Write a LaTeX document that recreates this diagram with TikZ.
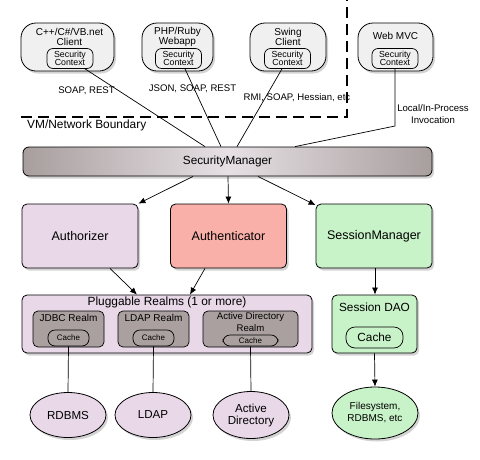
\documentclass[tikz,border=0pt]{standalone}
\usepackage{fontspec}
\setmainfont{Liberation Sans}
\usetikzlibrary{arrows.meta,shadows,calc,shapes.geometric}
\definecolor{clientfill}{HTML}{F0F0F0}
\definecolor{pinkfill}{HTML}{E8D8E8}
\definecolor{salmonfill}{HTML}{F8B0A8}
\definecolor{greenfill}{HTML}{C8F2C8}
\definecolor{realmgray}{HTML}{ABA0A0}
\definecolor{smdark}{HTML}{A89E9E}
\definecolor{smlight}{HTML}{E6E0E4}
\tikzset{
  shad/.style={drop shadow={opacity=0.35,shadow xshift=2pt,shadow yshift=-2.5pt}},
  clientbox/.style={draw,line width=0.8pt,fill=clientfill,rounded corners=15pt,shad,minimum width=76pt,minimum height=48pt,inner sep=0pt},
  ctxbox/.style={draw,line width=0.7pt,fill=clientfill,rounded corners=6pt,minimum width=46pt,minimum height=20pt,inner sep=0pt,font=\fontsize{8.8}{9}\selectfont,align=center},
  ctitle/.style={font=\fontsize{10}{11}\selectfont,align=center,inner sep=0pt},
  lbl/.style={font=\fontsize{9.6}{11.5}\selectfont,align=center,inner sep=0pt},
  midbox/.style={draw,line width=0.8pt,rounded corners=5pt,shad,minimum width=116pt,minimum height=64pt,font=\fontsize{12.5}{14}\selectfont,inner sep=0pt},
  realmbox/.style={draw,line width=0.7pt,fill=realmgray,rounded corners=5pt,minimum height=36pt,inner sep=0pt},
  cachebox/.style={draw,line width=0.7pt,fill=realmgray,rounded corners=7pt,minimum height=16pt,inner sep=0pt,font=\fontsize{8}{9}\selectfont},
  dbell/.style={draw,line width=0.8pt,ellipse,shad,inner sep=0pt,font=\fontsize{11.6}{13}\selectfont,align=center},
  conn/.style={line width=0.7pt},
  arr/.style={line width=0.7pt,-{Latex[length=7pt,width=6pt]}},
}
\begin{document}
\begin{tikzpicture}[x=1pt,y=-1pt]
\useasboundingbox (0,0) rectangle (480,459);
% boundary
\draw[line width=1.6pt,dash pattern=on 11pt off 6pt] (21,117) -- (347,117) -- (347,0);
\node[lbl,font=\fontsize{11.9}{13}\selectfont,anchor=west] (vmlbl) at (27,125) {VM/Network Boundary};
% clients
\node[clientbox,minimum width=93pt] (c1) at (67.5,47) {};
\node[ctitle] (c1t) at (69.5,36.5) {C++/C\#/VB.net\\[-1pt]Client};
\node[ctxbox] (c1s) at (70,58.5) {Security\\[-1.5pt]Context};
\node[clientbox,minimum width=71pt] (c2) at (177.5,47) {};
\node[ctitle] (c2t) at (177.5,36.5) {PHP/Ruby\\[-1pt]Webapp};
\node[ctxbox] (c2s) at (178.5,58.5) {Security\\[-1.5pt]Context};
\node[clientbox] (c3) at (288,47) {};
\node[ctitle] (c3t) at (288,36.5) {Swing\\[-1pt]Client};
\node[ctxbox] (c3s) at (287.5,58.5) {Security\\[-1.5pt]Context};
\node[clientbox,minimum width=75pt] (c4) at (395.5,47) {};
\node[ctitle] (c4t) at (395.5,35.5) {Web MVC};
\node[ctxbox] (c4s) at (395,58.5) {Security\\[-1.5pt]Context};
% protocol labels
\node[lbl] (p1) at (86.5,91) {SOAP, REST};
\node[lbl] (p2) at (192.5,89) {JSON, SOAP, REST};
\node[lbl] (p3) at (297,98) {RMI, SOAP, Hessian, etc};
\node[lbl] (p4) at (433,114) {Local/In-Process\\Invocation};
% security manager
\node[draw,line width=0.8pt,rounded corners=6pt,shad,minimum width=409pt,minimum height=29pt,inner sep=0pt,
  left color=smdark,right color=smdark,middle color=smlight,font=\fontsize{11.8}{13}\selectfont] (sm) at (227.5,161.5) {SecurityManager};
% connectors into SM
\draw[conn] ($(c1s.south)+(15,0)$) -- ($(sm.north)+(-22.5,0)$);
\draw[conn] ($(c2s.south)+(6.5,0)$) -- ($(sm.north)+(-6.5,0)$);
\draw[conn] ($(c3s.south)+(-5.5,0)$) -- ($(sm.north)+(9.5,0)$);
\coordinate (bend) at (395,126);
\draw[conn] (c4s.south) -- (bend) -- ($(sm.north)+(67.5,0)$);
% middle boxes
\node[midbox,fill=pinkfill] (authz) at (80,236) {Authorizer};
\node[midbox,fill=salmonfill] (authn) at (228.5,236) {Authenticator};
\node[midbox,fill=greenfill] (sessm) at (374,236) {SessionManager};
\draw[arr] ($(sm.south)+(-34.5,0)$) -- (authz.north east);
\draw[arr] ($(sm.south)+(0.5,0)$) -- (authn.north);
\draw[arr] ($(sm.south)+(30.5,0)$) -- ($(sessm.north west)+(0,1.5)$);
% realms
\node[draw,line width=0.8pt,fill=pinkfill,rounded corners=5pt,shad,minimum width=290pt,minimum height=58pt,inner sep=0pt] (realms) at (167,324) {};
\node[lbl,font=\fontsize{11.9}{13}\selectfont] (realmst) at (167,302) {Pluggable Realms (1 or more)};
\draw[arr] ($(authz.south)+(30,0)$) -- ($(realms.north)+(-30,0)$);
\draw[arr] ($(authn.south)+(-23.5,0)$) -- ($(realms.north)+(23,0)$);
\node[realmbox,minimum width=71pt] (jdbc) at (68.5,329) {};
\node[lbl,font=\fontsize{10}{11}\selectfont] (jdbct) at (68.5,318) {JDBC Realm};
\node[cachebox,minimum width=41pt] (jdbcc) at (68.5,338) {Cache};
\node[realmbox,minimum width=71pt] (ldapr) at (153.5,329) {};
\node[lbl,font=\fontsize{10}{11}\selectfont] (ldaprt) at (153.5,318) {LDAP Realm};
\node[cachebox,minimum width=41pt] (ldapc) at (153.5,338) {Cache};
\node[realmbox,minimum width=95pt] (adr) at (250.5,329) {};
\node[lbl,font=\fontsize{9.6}{11.5}\selectfont] (adrt) at (250.5,322) {Active Directory\\Realm};
\node[cachebox,minimum width=55pt,minimum height=11pt] (adc) at (250.5,340.5) {Cache};
% datastores
\node[dbell,fill=pinkfill,minimum width=76pt,minimum height=45pt] (rdbms) at (68,415) {RDBMS};
\node[dbell,fill=pinkfill,minimum width=76pt,minimum height=45pt] (ldap) at (153,415) {LDAP};
\node[dbell,fill=pinkfill,minimum width=76pt,minimum height=47pt] (ad) at (251,415) {Active\\[-1pt]Directory};
\draw[conn] (jdbcc.south) -- (rdbms.north);
\draw[conn] (ldapc.south) -- (ldap.north);
\draw[conn] (adc.south) -- (ad.north);
% session DAO
\node[draw,line width=0.8pt,fill=greenfill,rounded corners=5pt,shad,minimum width=85pt,minimum height=58pt,inner sep=0pt] (dao) at (374.5,324) {};
\node[lbl,font=\fontsize{11.8}{13}\selectfont] (daot) at (374.5,307) {Session DAO};
\node[draw,line width=0.7pt,fill=greenfill,rounded corners=9pt,minimum width=57pt,minimum height=21pt,inner sep=0pt,font=\fontsize{11.8}{13}\selectfont] (daoc) at (374.5,337.5) {Cache};
\draw[arr] ($(sessm.south)+(1,0)$) -- ($(dao.north)+(0.5,0)$);
\node[dbell,fill=greenfill,minimum width=86pt,minimum height=52pt,font=\fontsize{10}{12}\selectfont] (fs) at (375,413) {Filesystem,\\RDBMS, etc};
\draw[arr] (dao.south) -- (fs.north);
\end{tikzpicture}
\end{document}
